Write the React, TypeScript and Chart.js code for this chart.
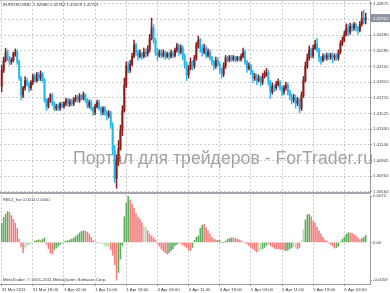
import React, { useEffect, useRef } from "react";
import { Chart, registerables } from "chart.js";

Chart.register(...registerables);

// ---------- data ----------
const timeLabels = [
  "31 Mar 2011", "31 Mar 18:00", "1 Apr 02:00", "1 Apr 10:00", "1 Apr 18:00", "4 Apr 03:00",
  "4 Apr 11:00", "4 Apr 19:00", "5 Apr 03:00", "5 Apr 11:00", "5 Apr 19:00", "6 Apr 03:00",
];
const timeTickBars = [0, 16, 32, 48, 64, 80, 96, 112, 128, 144, 160, 176];

const priceTickLabels = [
  "1.42875", "1.42685", "1.42490", "1.42295", "1.42105", "1.41910", "1.41715",
  "1.41525", "1.41330", "1.41140", "1.40945", "1.40750", "1.40560",
];
const histTickLabels = ["0.0072", "0.00", "-0.0059"];

const titleText = "EURUSD,M30  1.42686 1.42762 1.42629 1.42701";
const indicatorText = "RBCI_hst 0.0011 0.0000";
const copyrightText = "MetaTrader, \u00A9 2001-2011 MetaQuotes Software Corp.";
const watermarkText = "Портал для трейдеров - ForTrader.ru";
const lastPrice = 1.42701;

const opens = [
  1.4186, 1.4206, 1.4218, 1.4228, 1.4221, 1.4216, 1.4218, 1.4226, 1.4228, 1.4216,
  1.4196, 1.4175, 1.4184, 1.4193, 1.4188, 1.4184, 1.4191, 1.4198, 1.4193, 1.4200,
  1.4196, 1.4201, 1.4193, 1.4169, 1.4161, 1.4169, 1.4175, 1.4165, 1.4159, 1.4161,
  1.4159, 1.4164, 1.4161, 1.4165, 1.4169, 1.4164, 1.4167, 1.4165, 1.4170, 1.4172,
  1.4169, 1.4174, 1.4171, 1.4175, 1.4169, 1.4162, 1.4166, 1.4159, 1.4154, 1.4161,
  1.4166, 1.4159, 1.4154, 1.4159, 1.4154, 1.4150, 1.4153, 1.4138, 1.4107, 1.4072,
  1.4094, 1.4109, 1.4132, 1.4156, 1.4187, 1.4211, 1.4206, 1.4213, 1.4223, 1.4237,
  1.4228, 1.4223, 1.4226, 1.4223, 1.4228, 1.4226, 1.4231, 1.4245, 1.4258, 1.4243,
  1.4228, 1.4224, 1.4228, 1.4224, 1.4227, 1.4223, 1.4226, 1.4223, 1.4227, 1.4224,
  1.4231, 1.4236, 1.4228, 1.4233, 1.4223, 1.4212, 1.4200, 1.4208, 1.4216, 1.4211,
  1.4221, 1.4237, 1.4243, 1.4233, 1.4228, 1.4233, 1.4224, 1.4228, 1.4221, 1.4216,
  1.4211, 1.4218, 1.4213, 1.4206, 1.4201, 1.4211, 1.4221, 1.4218, 1.4222, 1.4219,
  1.4222, 1.4219, 1.4221, 1.4219, 1.4223, 1.4228, 1.4216, 1.4208, 1.4211, 1.4203,
  1.4196, 1.4198, 1.4193, 1.4196, 1.4191, 1.4198, 1.4201, 1.4203, 1.4191, 1.4179,
  1.4186, 1.4184, 1.4188, 1.4191, 1.4184, 1.4179, 1.4184, 1.4187, 1.4179, 1.4174,
  1.4169, 1.4172, 1.4165, 1.4169, 1.4159, 1.4175, 1.4193, 1.4211, 1.4221, 1.4231,
  1.4223, 1.4233, 1.4238, 1.4231, 1.4221, 1.4218, 1.4223, 1.4221, 1.4224, 1.4222,
  1.4224, 1.4221, 1.4223, 1.4221, 1.4228, 1.4238, 1.4243, 1.4250, 1.4258, 1.4253,
  1.4260, 1.4258, 1.4262, 1.4258, 1.4255, 1.4263, 1.4270, 1.42686,
];

const highs = [
  1.4212, 1.4222, 1.4233, 1.4231, 1.4223, 1.4221, 1.4228, 1.4232, 1.4231, 1.4218,
  1.4198, 1.4186, 1.4198, 1.4196, 1.4191, 1.4193, 1.4201, 1.4201, 1.4203, 1.4203,
  1.4205, 1.4203, 1.4196, 1.4171, 1.4171, 1.4177, 1.4177, 1.4167, 1.4164, 1.4164,
  1.4166, 1.4166, 1.4167, 1.4171, 1.4171, 1.4170, 1.4170, 1.4172, 1.4175, 1.4175,
  1.4177, 1.4176, 1.4179, 1.4177, 1.4171, 1.4169, 1.4169, 1.4161, 1.4164, 1.4169,
  1.4169, 1.4161, 1.4161, 1.4161, 1.4156, 1.4156, 1.4155, 1.4141, 1.4113, 1.4101,
  1.4119, 1.4138, 1.4162, 1.4196, 1.4216, 1.4216, 1.4218, 1.4227, 1.4243, 1.4239,
  1.4231, 1.4231, 1.4228, 1.4233, 1.4232, 1.4236, 1.4250, 1.4270, 1.4262, 1.4245,
  1.4233, 1.4231, 1.4231, 1.4231, 1.4229, 1.4228, 1.4228, 1.4231, 1.4229, 1.4233,
  1.4239, 1.4238, 1.4237, 1.4236, 1.4226, 1.4216, 1.4212, 1.4221, 1.4218, 1.4224,
  1.4240, 1.4248, 1.4245, 1.4237, 1.4238, 1.4236, 1.4232, 1.4231, 1.4223, 1.4218,
  1.4222, 1.4221, 1.4216, 1.4208, 1.4215, 1.4224, 1.4223, 1.4224, 1.4224, 1.4224,
  1.4223, 1.4223, 1.4223, 1.4226, 1.4233, 1.4231, 1.4218, 1.4215, 1.4213, 1.4206,
  1.4202, 1.4201, 1.4200, 1.4198, 1.4202, 1.4205, 1.4208, 1.4206, 1.4193, 1.4190,
  1.4188, 1.4192, 1.4195, 1.4193, 1.4186, 1.4187, 1.4191, 1.4190, 1.4181, 1.4176,
  1.4176, 1.4175, 1.4172, 1.4171, 1.4179, 1.4198, 1.4216, 1.4226, 1.4236, 1.4233,
  1.4237, 1.4243, 1.4245, 1.4233, 1.4223, 1.4226, 1.4226, 1.4227, 1.4227, 1.4227,
  1.4227, 1.4226, 1.4226, 1.4231, 1.4242, 1.4247, 1.4254, 1.4263, 1.4262, 1.4264,
  1.4263, 1.4265, 1.4264, 1.4260, 1.4266, 1.4278, 1.4280, 1.42762,
];

const lows = [
  1.4179, 1.4203, 1.4216, 1.4218, 1.4212, 1.4213, 1.4216, 1.4223, 1.4213, 1.4193,
  1.4169, 1.4172, 1.4181, 1.4186, 1.4179, 1.4181, 1.4188, 1.4191, 1.4191, 1.4193,
  1.4193, 1.4191, 1.4166, 1.4156, 1.4159, 1.4166, 1.4162, 1.4156, 1.4156, 1.4156,
  1.4156, 1.4159, 1.4159, 1.4162, 1.4161, 1.4161, 1.4162, 1.4162, 1.4167, 1.4166,
  1.4166, 1.4169, 1.4169, 1.4166, 1.4159, 1.4159, 1.4156, 1.4150, 1.4151, 1.4159,
  1.4156, 1.4150, 1.4151, 1.4150, 1.4144, 1.4147, 1.4134, 1.4101, 1.4067, 1.4060,
  1.4088, 1.4107, 1.4125, 1.4154, 1.4184, 1.4202, 1.4203, 1.4211, 1.4221, 1.4224,
  1.4218, 1.4221, 1.4219, 1.4221, 1.4222, 1.4223, 1.4228, 1.4243, 1.4239, 1.4224,
  1.4218, 1.4222, 1.4221, 1.4222, 1.4219, 1.4221, 1.4219, 1.4221, 1.4221, 1.4222,
  1.4228, 1.4224, 1.4226, 1.4218, 1.4208, 1.4193, 1.4196, 1.4206, 1.4206, 1.4208,
  1.4218, 1.4233, 1.4228, 1.4223, 1.4226, 1.4221, 1.4222, 1.4218, 1.4212, 1.4206,
  1.4208, 1.4211, 1.4202, 1.4196, 1.4198, 1.4208, 1.4216, 1.4216, 1.4217, 1.4217,
  1.4216, 1.4217, 1.4217, 1.4217, 1.4221, 1.4213, 1.4203, 1.4206, 1.4200, 1.4191,
  1.4193, 1.4188, 1.4191, 1.4186, 1.4188, 1.4196, 1.4198, 1.4187, 1.4171, 1.4176,
  1.4179, 1.4181, 1.4186, 1.4181, 1.4174, 1.4176, 1.4181, 1.4175, 1.4169, 1.4164,
  1.4166, 1.4159, 1.4162, 1.4153, 1.4156, 1.4172, 1.4191, 1.4208, 1.4218, 1.4221,
  1.4221, 1.4231, 1.4228, 1.4216, 1.4213, 1.4216, 1.4218, 1.4218, 1.4219, 1.4219,
  1.4215, 1.4218, 1.4218, 1.4218, 1.4226, 1.4236, 1.4241, 1.4248, 1.4248, 1.4250,
  1.4254, 1.4255, 1.4254, 1.4250, 1.4253, 1.4260, 1.4263, 1.42629,
];

const closes = [
  1.4206, 1.4218, 1.4228, 1.4221, 1.4216, 1.4218, 1.4226, 1.4228, 1.4216, 1.4196,
  1.4175, 1.4184, 1.4193, 1.4188, 1.4184, 1.4191, 1.4198, 1.4193, 1.4200, 1.4196,
  1.4201, 1.4193, 1.4169, 1.4161, 1.4169, 1.4175, 1.4165, 1.4159, 1.4161, 1.4159,
  1.4164, 1.4161, 1.4165, 1.4169, 1.4164, 1.4167, 1.4165, 1.4170, 1.4172, 1.4169,
  1.4174, 1.4171, 1.4175, 1.4169, 1.4162, 1.4166, 1.4159, 1.4154, 1.4161, 1.4166,
  1.4159, 1.4154, 1.4159, 1.4154, 1.4150, 1.4153, 1.4138, 1.4107, 1.4072, 1.4094,
  1.4109, 1.4132, 1.4156, 1.4187, 1.4211, 1.4206, 1.4213, 1.4223, 1.4237, 1.4228,
  1.4223, 1.4226, 1.4223, 1.4228, 1.4226, 1.4231, 1.4245, 1.4258, 1.4243, 1.4228,
  1.4224, 1.4228, 1.4224, 1.4227, 1.4223, 1.4226, 1.4223, 1.4227, 1.4224, 1.4231,
  1.4236, 1.4228, 1.4233, 1.4223, 1.4212, 1.4200, 1.4208, 1.4216, 1.4211, 1.4221,
  1.4237, 1.4243, 1.4233, 1.4228, 1.4233, 1.4224, 1.4228, 1.4221, 1.4216, 1.4211,
  1.4218, 1.4213, 1.4206, 1.4201, 1.4211, 1.4221, 1.4218, 1.4222, 1.4219, 1.4222,
  1.4219, 1.4221, 1.4219, 1.4223, 1.4228, 1.4216, 1.4208, 1.4211, 1.4203, 1.4196,
  1.4198, 1.4193, 1.4196, 1.4191, 1.4198, 1.4201, 1.4203, 1.4191, 1.4179, 1.4186,
  1.4184, 1.4188, 1.4191, 1.4184, 1.4179, 1.4184, 1.4187, 1.4179, 1.4174, 1.4169,
  1.4172, 1.4165, 1.4169, 1.4159, 1.4175, 1.4193, 1.4211, 1.4221, 1.4231, 1.4223,
  1.4233, 1.4238, 1.4231, 1.4221, 1.4218, 1.4223, 1.4221, 1.4224, 1.4222, 1.4224,
  1.4221, 1.4223, 1.4221, 1.4228, 1.4238, 1.4243, 1.4250, 1.4258, 1.4253, 1.4260,
  1.4258, 1.4262, 1.4258, 1.4255, 1.4263, 1.4270, 1.4265, 1.42701,
];

const hist = [
  0.0030, 0.0039, 0.0044, 0.0048, 0.0047, 0.0042, 0.0036, 0.0030, 0.0022, 0.0005,
  -0.0007, -0.0016, -0.0008, -0.0005, -0.0004, -0.0002, -0.0001, 0.0002, 0.0003, 0.0004,
  0.0003, 0.0005, 0.0007, -0.0003, -0.0010, -0.0017, -0.0018, -0.0012, -0.0009, -0.0006,
  -0.0003, -0.0001, 0.0001, 0.0002, 0.0003, 0.0004, 0.0005, 0.0007, 0.0009, 0.0012,
  0.0015, 0.0017, 0.0018, 0.0018, 0.0016, 0.0013, 0.0008, 0.0003, 0.0001, 0.0000,
  -0.0001, -0.0001, -0.0002, -0.0005, -0.0006, -0.0007, -0.0011, -0.0020, -0.0035, -0.0059,
  -0.0047, -0.0026, -0.0005, 0.0040, 0.0062, 0.0072, 0.0066, 0.0060, 0.0053, 0.0045,
  0.0039, 0.0036, 0.0031, 0.0026, 0.0023, 0.0018, 0.0013, 0.0010, 0.0007, 0.0004,
  -0.0002, -0.0006, -0.0010, -0.0013, -0.0016, -0.0018, -0.0016, -0.0013, -0.0010, -0.0005,
  -0.0003, -0.0002, -0.0003, -0.0004, -0.0006, -0.0008, -0.0012, -0.0013, -0.0008, 0.0003,
  0.0008, 0.0010, 0.0022, 0.0027, 0.0028, 0.0023, 0.0018, 0.0013, 0.0008, 0.0005,
  0.0004, 0.0003, 0.0003, 0.0000, 0.0000, 0.0002, 0.0005, 0.0006, 0.0007, 0.0007,
  0.0006, 0.0005, 0.0004, 0.0003, 0.0001, -0.0001, -0.0002, -0.0005, -0.0008, -0.0010,
  -0.0013, -0.0015, -0.0014, -0.0012, -0.0010, -0.0008, -0.0005, -0.0002, -0.0005, -0.0007,
  -0.0009, -0.0010, -0.0010, -0.0011, -0.0011, -0.0012, -0.0013, -0.0012, -0.0010, -0.0008,
  -0.0007, -0.0009, -0.0010, -0.0008, 0.0003, 0.0020, 0.0035, 0.0043, 0.0044, 0.0040,
  0.0033, 0.0030, 0.0024, 0.0018, 0.0013, 0.0008, 0.0004, 0.0002, -0.0001, -0.0003,
  -0.0006, -0.0009, -0.0008, -0.0006, 0.0001, 0.0005, 0.0008, 0.0013, 0.0015, 0.0015,
  0.0014, 0.0012, 0.0010, 0.0007, 0.0004, 0.0006, 0.0008, 0.0011,
];

// g = rising (green), r = falling (red), G = weak green, R = weak red
const histColorCodes =
  "gggg rrrrrrrr GGGGG ggg r gg rrrr gggggggggggggggg rrrrrrr RR GGGG rrrr gggggg rrrrrrr GG " +
  "rrrrrrrrrrr ggggg RR rrrrr gggggg rrrrrrr gggggggg rrrrrrrrrrrrr GG ggg rrrrrrrrr gggg RR rr GG ggg " +
  "rrrrrrrrrrrrr ggggggg rrrrrr ggg";

// ---------- styles ----------
const FONT_FAMILY = "'Liberation Sans', Arial, sans-serif";
const SMALL = 4.3;
const TEXT = "#3a3a3a";
const GRID = "#cdcdcd";
const AXIS = "#9a9aa6";
const BULL = "#8b1a1a";
const BEAR = "#22b8f0";
const HIST_COLORS: Record<string, string> = { g: "#5cae5c", r: "#f27c7c", G: "#b6dcb0", R: "#f7b9b9" };

const X_MIN = -0.873;
const X_MAX = 189.2;
const P_MIN = 1.40554;
const P_MAX = 1.42912;
const H_MIN = -0.0065;
const H_MAX = 0.0074;
const AXIS_W = 20;

const smallFont = { family: FONT_FAMILY, size: SMALL };

function xScale(showLabels: boolean): any {
  return {
    type: "linear",
    min: X_MIN,
    max: X_MAX,
    offset: false,
    grid: {
      display: true,
      drawOnChartArea: true,
      drawTicks: showLabels,
      tickLength: 2,
      color: GRID,
      tickColor: AXIS,
      offset: false,
    },
    border: { display: showLabels, color: AXIS, width: 1, dash: [2, 2] },
    ticks: {
      display: showLabels,
      autoSkip: false,
      maxRotation: 0,
      minRotation: 0,
      align: "start",
      padding: 1,
      font: smallFont,
      color: TEXT,
      callback: (v: any) => {
        const k = timeTickBars.indexOf(Number(v));
        return k < 0 ? "" : timeLabels[k];
      },
    },
    afterBuildTicks: (s: any) => {
      s.ticks = timeTickBars.map((v) => ({ value: v }));
    },
    afterFit: (s: any) => {
      s.height = showLabels ? 9 : 0;
      s.paddingLeft = 0;
      s.paddingRight = 0;
      s.paddingTop = 0;
      s.paddingBottom = 0;
    },
  };
}

function yScale(labels: string[], min: number, max: number, gridOnArea: boolean): any {
  return {
    type: "linear",
    position: "right",
    min,
    max,
    grid: {
      display: true,
      drawOnChartArea: gridOnArea,
      drawTicks: true,
      tickLength: 2,
      color: GRID,
      tickColor: AXIS,
    },
    border: { display: true, color: AXIS, width: 1, dash: [2, 2] },
    ticks: {
      autoSkip: false,
      padding: 1,
      font: smallFont,
      color: TEXT,
      callback: (_v: any, i: number) => labels[i],
    },
    afterBuildTicks: (s: any) => {
      s.ticks = labels.map((t) => ({ value: parseFloat(t) }));
    },
    afterFit: (s: any) => {
      s.width = AXIS_W;
      s.paddingLeft = 0;
      s.paddingRight = 0;
      s.paddingTop = 0;
      s.paddingBottom = 0;
    },
  };
}

const decorPrice = {
  id: "decorPrice",
  beforeDatasetsDraw(chart: any) {
    const { ctx } = chart;
    ctx.save();
    ctx.font = `18px ${FONT_FAMILY}`;
    ctx.fillStyle = "rgba(140,130,130,0.75)";
    ctx.textBaseline = "alphabetic";
    ctx.textAlign = "left";
    const w = ctx.measureText(watermarkText).width;
    ctx.translate(73, 164);
    ctx.scale(300 / w, 1);
    ctx.fillText(watermarkText, 0, 0);
    ctx.restore();
  },
  afterDraw(chart: any) {
    const { ctx, chartArea, scales } = chart;
    ctx.save();
    ctx.fillStyle = "#c6c6ce";
    ctx.fillRect(0, 0, chartArea.right, 1);
    ctx.fillStyle = "#a4a4ae";
    ctx.fillRect(0, chartArea.bottom, chartArea.right + 1, 2);
    ctx.font = `${SMALL}px ${FONT_FAMILY}`;
    ctx.textBaseline = "middle";
    ctx.textAlign = "left";
    ctx.fillStyle = TEXT;
    ctx.fillText(titleText, 3, 5);
    const y = scales.y.getPixelForValue(lastPrice);
    ctx.fillStyle = "#8d949e";
    ctx.fillRect(chartArea.right + 1, y - 4, chart.width - chartArea.right - 1, 8);
    ctx.fillStyle = "#ffffff";
    ctx.fillText(lastPrice.toFixed(5), chartArea.right + 3, y + 0.3);
    ctx.restore();
  },
};

const decorHist = {
  id: "decorHist",
  afterDraw(chart: any) {
    const { ctx, chartArea } = chart;
    ctx.save();
    ctx.font = `${SMALL}px ${FONT_FAMILY}`;
    ctx.textBaseline = "middle";
    ctx.textAlign = "left";
    ctx.fillStyle = TEXT;
    ctx.fillText(indicatorText, 3, chartArea.top + 5);
    ctx.fillText(copyrightText, 3, chartArea.bottom - 4);
    ctx.restore();
  },
};

export default function App() {
  const refA = useRef<HTMLCanvasElement | null>(null);
  const refB = useRef<HTMLCanvasElement | null>(null);

  useEffect(() => {
    const idx = opens.map((_, i) => i);
    const candleColors = idx.map((i) => (closes[i] >= opens[i] ? BULL : BEAR));
    const codes = histColorCodes.replace(/\s+/g, "").split("");
    const histColors = idx.map((i) => HIST_COLORS[codes[i]] || HIST_COLORS.g);

    const base: any = {
      responsive: false,
      maintainAspectRatio: false,
      animation: false,
      devicePixelRatio: 1,
      events: [],
      plugins: { legend: { display: false }, tooltip: { enabled: false } },
    };

    const a = new Chart(refA.current as HTMLCanvasElement, {
      type: "bar",
      data: {
        datasets: [
          {
            data: idx.map((i) => ({ x: i, y: [lows[i], highs[i]] })) as any,
            backgroundColor: candleColors,
            barThickness: 0.8,
            grouped: false,
            order: 2,
          },
          {
            data: idx.map((i) => ({ x: i, y: [opens[i], closes[i]] })) as any,
            backgroundColor: candleColors,
            barThickness: 1.3,
            minBarLength: 1,
            grouped: false,
            order: 1,
          },
        ],
      },
      options: {
        ...base,
        layout: { padding: { top: 1, bottom: 2, left: 0, right: 0 }, autoPadding: false },
        scales: { x: xScale(false), y: yScale(priceTickLabels, P_MIN, P_MAX, true) },
      },
      plugins: [decorPrice],
    } as any);

    const b = new Chart(refB.current as HTMLCanvasElement, {
      type: "bar",
      data: {
        datasets: [
          {
            data: idx.map((i) => ({ x: i, y: hist[i] })) as any,
            backgroundColor: histColors,
            barThickness: 0.9,
            grouped: false,
          },
        ],
      },
      options: {
        ...base,
        layout: { padding: { top: 1, bottom: 0, left: 0, right: 0 }, autoPadding: false },
        scales: { x: xScale(true), y: yScale(histTickLabels, H_MIN, H_MAX, false) },
      },
      plugins: [decorHist],
    } as any);

    return () => {
      a.destroy();
      b.destroy();
    };
  }, []);

  return (
    <div style={{ position: "fixed", left: 0, top: 0, width: 390, height: 293, background: "#ffffff" }}>
      <canvas
        ref={refA}
        width={390}
        height={194}
        style={{ position: "absolute", left: 0, top: 0, width: 390, height: 194 }}
      />
      <canvas
        ref={refB}
        width={390}
        height={99}
        style={{ position: "absolute", left: 0, top: 194, width: 390, height: 99 }}
      />
    </div>
  );
}
